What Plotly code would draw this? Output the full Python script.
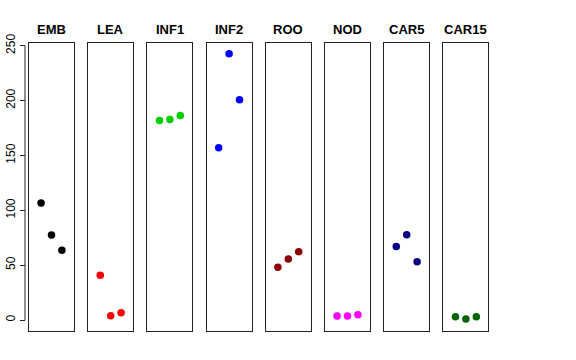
import plotly.graph_objects as go

panels = ["EMB", "LEA", "INF1", "INF2", "ROO", "NOD", "CAR5", "CAR15"]
colors = ["#000000", "#FF0000", "#00CD00", "#0000FF", "#8B0000", "#FF00FF", "#000080", "#006400"]
values = {
    "EMB": [106.6, 77.5, 63.5],
    "LEA": [40.7, 3.9, 6.7],
    "INF1": [181.9, 182.8, 186.5],
    "INF2": [157.1, 242.7, 200.8],
    "ROO": [48.0, 55.6, 62.3],
    "NOD": [3.6, 3.6, 4.9],
    "CAR5": [67.1, 77.7, 53.2],
    "CAR15": [3.0, 0.9, 3.0],
}
replicates = [1, 2, 3]
y_ticks = [0, 50, 100, 150, 200, 250]

W, H = 576, 360
yr = [-10.0, 252.2]
xr = [-0.16, 4.16]
y_dom = [1 - 331 / H, 1 - 43.3 / H]

fig = go.Figure()
layout = dict(
    width=W, height=H, margin=dict(l=0, r=0, t=0, b=0, pad=0, autoexpand=False),
    paper_bgcolor="white", plot_bgcolor="white", showlegend=False,
    font=dict(family="Liberation Sans, Arial, sans-serif", color="black"),
)
annotations = []
line_col = "#222222"
for i, (name, col) in enumerate(zip(panels, colors)):
    left = 29 + i * 59.2
    right = left + 45
    k = "" if i == 0 else str(i + 1)
    fig.add_trace(go.Scatter(
        x=replicates, y=values[name], mode="markers",
        marker=dict(color=col, size=7.5),
        xaxis="x" + k, yaxis="y" + k, hoverinfo="skip",
    ))
    layout["xaxis" + k] = dict(
        domain=[left / W, right / W], range=xr, anchor="y" + k,
        showline=True, mirror=True, linecolor=line_col, linewidth=1,
        showticklabels=False, ticks="", showgrid=False, zeroline=False,
        automargin=False,
    )
    layout["yaxis" + k] = dict(
        domain=y_dom, range=yr, anchor="x" + k,
        showline=True, mirror=True, linecolor=line_col, linewidth=1,
        showticklabels=False, ticks="", showgrid=False, zeroline=False,
        automargin=False,
    )
    annotations.append(dict(
        text="<b>" + name + "</b>", x=(left + right) / 2 / W, y=1 - 29 / H,
        xref="paper", yref="paper", showarrow=False, xanchor="center",
        yanchor="middle", font=dict(size=13, color="black"),
    ))

# free y axis carrying tick marks and labels (R style, offset from box)
axis_x = 25 / W
fig.add_trace(go.Scatter(x=[None], y=[None], xaxis="x", yaxis="y9",
                         mode="markers", hoverinfo="skip"))
layout["yaxis9"] = dict(
    overlaying="y", anchor="free", position=axis_x, side="left",
    range=yr, tickvals=y_ticks, ticks="outside", ticklen=5, tickwidth=1,
    tickcolor=line_col, tickangle=-90, showline=False, showgrid=False,
    zeroline=False, tickfont=dict(size=12, color="black"), automargin=False,
)
layout["annotations"] = annotations
layout["shapes"] = [dict(
    type="line", xref="paper", yref="y", x0=axis_x, x1=axis_x,
    y0=y_ticks[0], y1=y_ticks[-1], line=dict(color=line_col, width=1),
)]
fig.update_layout(**layout)
fig.write_html(
    "out.html",
    config={"displayModeBar": False, "staticPlot": True},
    post_script="document.body.style.margin='0px';document.body.style.padding='0px';",
)
